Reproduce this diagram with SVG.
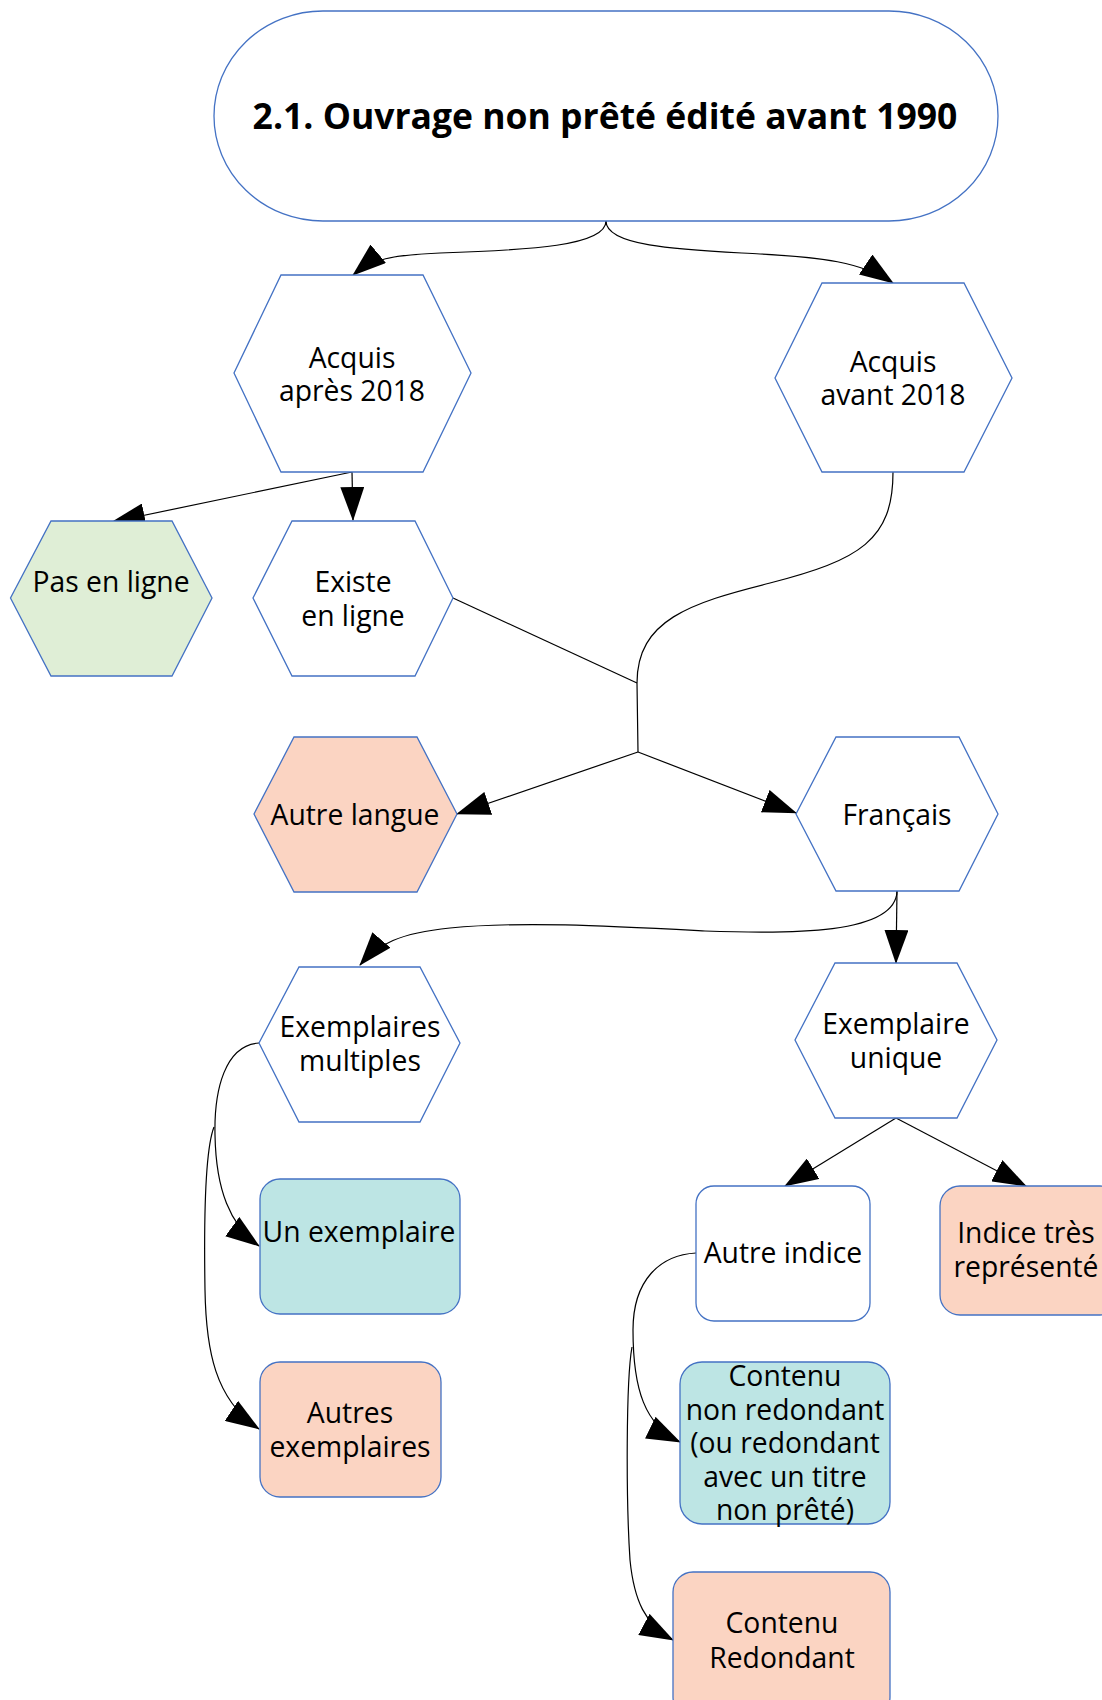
<svg xmlns="http://www.w3.org/2000/svg" width="1102" height="1700" viewBox="0 0 1102 1700">
<defs>
<marker id="arr" viewBox="0 0 34 24" refX="33" refY="12" markerWidth="34" markerHeight="24" markerUnits="userSpaceOnUse" orient="auto">
<path d="M0,0 L34,12 L0,24 z" fill="#000"/>
</marker>
<style>
.shape{stroke:#4472c4;stroke-width:1.3;}
.w{fill:#ffffff;}
.g{fill:#dfeed6;}
.s{fill:#fbd4c2;}
.t{fill:#bde5e4;}
.lbl{font-family:"Open Sans","Noto Sans","DejaVu Sans",sans-serif;font-size:28.3px;fill:#000;text-anchor:middle;}
.title{font-family:"Open Sans","Noto Sans","DejaVu Sans",sans-serif;font-size:35.5px;font-weight:bold;fill:#000;text-anchor:middle;}
.c{fill:none;stroke:#000;stroke-width:1.2;}
.ca{fill:none;stroke:#000;stroke-width:1.2;marker-end:url(#arr);}
</style>
</defs>
<rect width="1102" height="1700" fill="#ffffff"/>

<g id="connectors">
<path class="ca" d="M606,221 C606,246 530,250 440,253 C392,255 372,259 353,275"/>
<path class="ca" d="M606,221 C606,248 690,250 760,254 C820,257 862,262 893,283"/>
<path class="ca" d="M352,472 L112,522"/>
<path class="ca" d="M352,472 L353,520"/>
<path class="c" d="M453,598 L637,683"/>
<path class="c" d="M893,472 C893,540 860,560 770,583 C690,603 637,620 637,683 L638,752"/>
<path class="ca" d="M638,752 L457,814"/>
<path class="ca" d="M638,752 L796,813"/>
<path class="ca" d="M897,891 C896,935 790,934 705,931 C610,926 520,921 450,928 C400,933 378,944 360,965"/>
<path class="ca" d="M897,891 L896,963"/>
<path class="ca" d="M896,1118 L785,1186"/>
<path class="ca" d="M896,1118 L1026,1186"/>
<path class="ca" d="M259,1043 C225,1045 214,1090 215,1135 C216,1190 230,1225 259,1246"/>
<path class="ca" d="M214,1127 C205,1150 204,1230 205,1290 C206,1350 215,1400 259,1429"/>
<path class="ca" d="M696,1253 C660,1255 633,1280 633,1330 C633,1390 645,1425 680,1442"/>
<path class="ca" d="M632,1347 C626,1380 626,1500 630,1560 C634,1600 645,1625 673,1640"/>
</g>

<g id="n-title">
<rect class="shape w" x="214" y="11" width="784" height="210" rx="109" ry="105"/>
<text class="title" x="605" y="129">2.1. Ouvrage non prêté édité avant 1990</text>
</g>

<g id="n-apres">
<polygon class="shape w" points="281,275 423,275 471,373 423,472 281,472 234,373"/>
<text class="lbl" x="352" y="368">Acquis</text>
<text class="lbl" x="352" y="401">après 2018</text>
</g>

<g id="n-avant">
<polygon class="shape w" points="822,283 964,283 1012,378 964,472 822,472 775,378"/>
<text class="lbl" x="893" y="372">Acquis</text>
<text class="lbl" x="893" y="405">avant 2018</text>
</g>

<g id="n-pasenligne">
<polygon class="shape g" points="51,521 172,521 212,598 172,676 51,676 10.5,598"/>
<text class="lbl" x="111" y="592">Pas en ligne</text>
</g>

<g id="n-existe">
<polygon class="shape w" points="292,521 415,521 453,598 415,676 292,676 253,598"/>
<text class="lbl" x="353" y="592">Existe</text>
<text class="lbl" x="353" y="626">en ligne</text>
</g>

<g id="n-autrelangue">
<polygon class="shape s" points="294,737 417,737 457,814 417,892 294,892 254,814"/>
<text class="lbl" x="355" y="825">Autre langue</text>
</g>

<g id="n-francais">
<polygon class="shape w" points="836,737 959,737 998,814 959,891 836,891 796,814"/>
<text class="lbl" x="897" y="825">Français</text>
</g>

<g id="n-multiples">
<polygon class="shape w" points="299,967 420,967 460,1043 420,1122 299,1122 259,1043"/>
<text class="lbl" x="360" y="1037">Exemplaires</text>
<text class="lbl" x="360" y="1071">multiples</text>
</g>

<g id="n-unique">
<polygon class="shape w" points="835,963 957,963 997,1040 957,1118 835,1118 795,1040"/>
<text class="lbl" x="896" y="1034">Exemplaire</text>
<text class="lbl" x="896" y="1068">unique</text>
</g>

<g id="n-unexemplaire">
<rect class="shape t" x="260" y="1179" width="200" height="135" rx="20"/>
<text class="lbl" x="359" y="1242">Un exemplaire</text>
</g>

<g id="n-autres">
<rect class="shape s" x="260" y="1362" width="181" height="135" rx="20"/>
<text class="lbl" x="350" y="1423">Autres</text>
<text class="lbl" x="350" y="1457">exemplaires</text>
</g>

<g id="n-autreindice">
<rect class="shape w" x="696" y="1186" width="174" height="135" rx="18"/>
<text class="lbl" x="783" y="1263">Autre indice</text>
</g>

<g id="n-indicetres">
<rect class="shape s" x="940" y="1186" width="180" height="129" rx="20"/>
<text class="lbl" x="1026" y="1243">Indice très</text>
<text class="lbl" x="1026" y="1277">représenté</text>
</g>

<g id="n-nonredondant">
<rect class="shape t" x="680" y="1362" width="210" height="162" rx="22"/>
<text class="lbl" x="785" y="1386">Contenu</text>
<text class="lbl" x="785" y="1420">non redondant</text>
<text class="lbl" x="785" y="1453">(ou redondant</text>
<text class="lbl" x="785" y="1487">avec un titre</text>
<text class="lbl" x="785" y="1520">non prêté)</text>
</g>

<g id="n-redondant">
<rect class="shape s" x="673" y="1572" width="217" height="145" rx="20"/>
<text class="lbl" x="782" y="1633">Contenu</text>
<text class="lbl" x="782" y="1668">Redondant</text>
</g>
</svg>
